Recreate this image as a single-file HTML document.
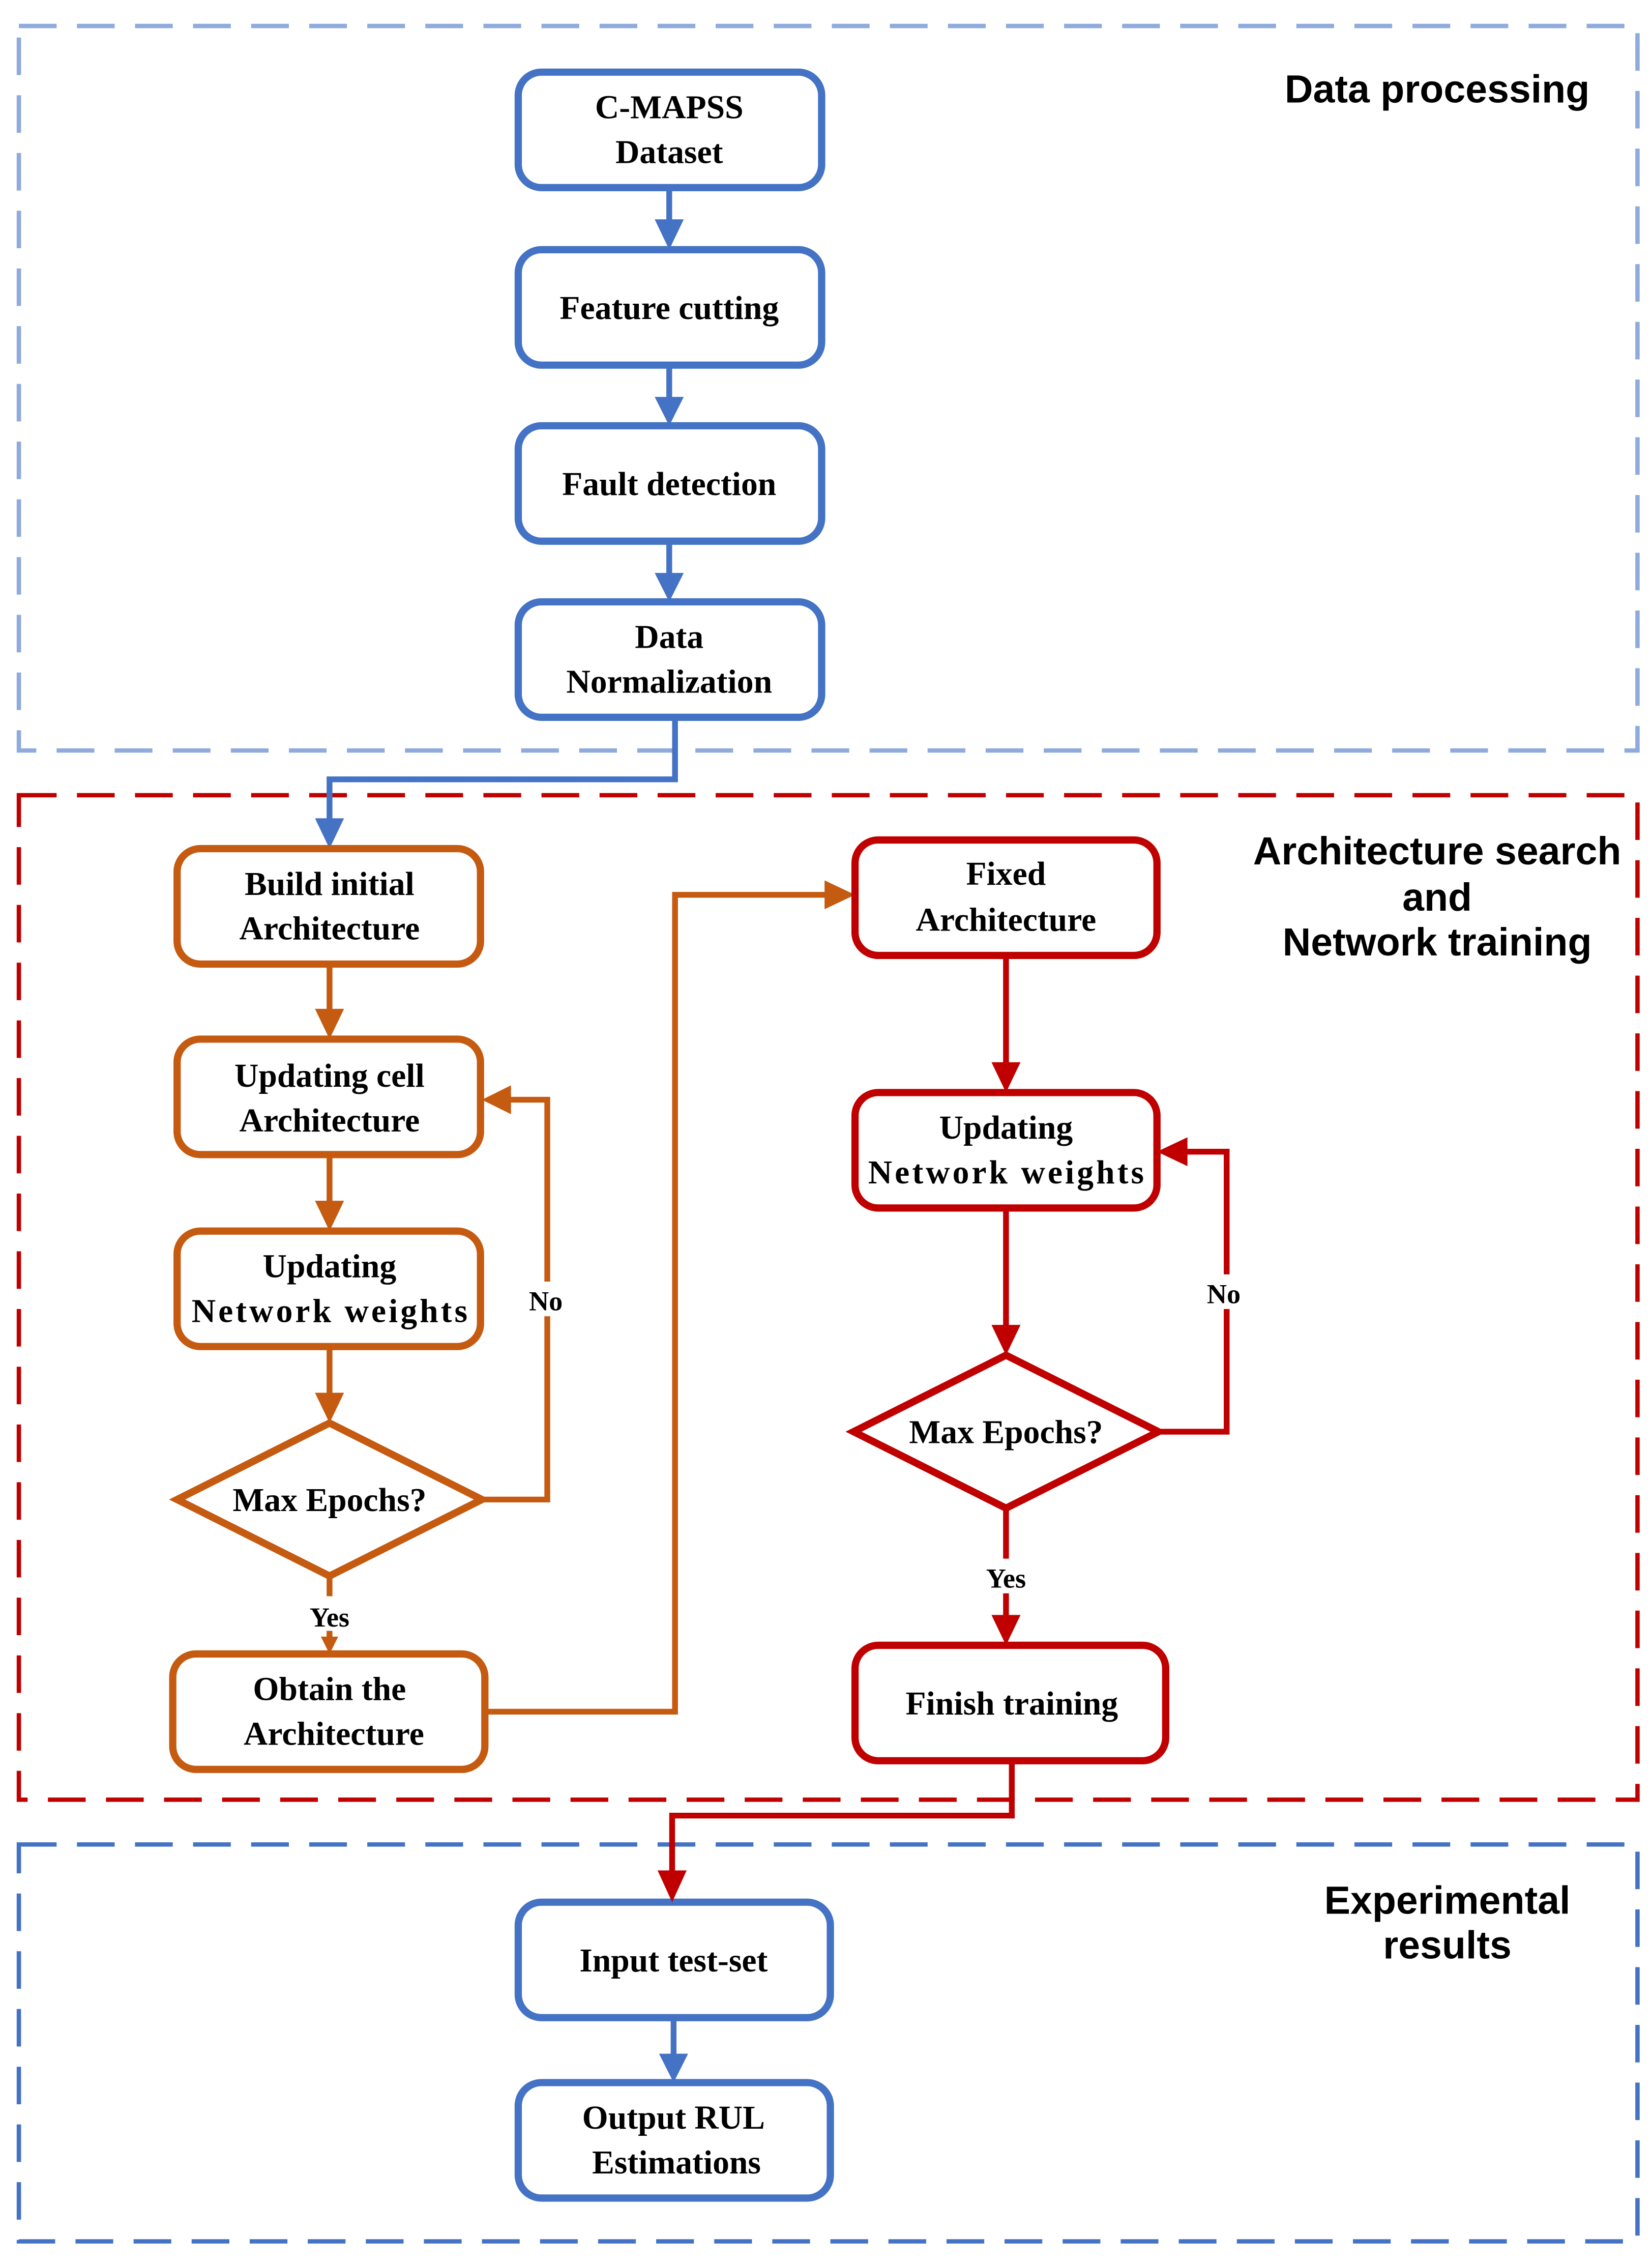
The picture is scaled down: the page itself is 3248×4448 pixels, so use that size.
<!DOCTYPE html>
<html><head><meta charset="utf-8"><style>html,body{margin:0;padding:0;background:#fff}svg{display:block}
.n{font-family:"Liberation Serif",serif;font-weight:bold;font-size:23px;text-anchor:middle;fill:#000}
.l{font-family:"Liberation Sans",sans-serif;font-weight:bold;font-size:27px;text-anchor:middle;fill:#000}
.s{font-family:"Liberation Serif",serif;font-weight:bold;font-size:19px;text-anchor:middle;fill:#000}
</style></head><body>
<svg width="3248" height="4448" viewBox="0 0 1138 1568" preserveAspectRatio="none" xmlns="http://www.w3.org/2000/svg">
<rect x="0" y="0" width="1138" height="1568" fill="#fff"/>
<!-- group boxes -->
<rect x="13" y="18" width="1115" height="502" fill="none" stroke="#8faadc" stroke-width="3" stroke-dasharray="26,14"/>
<rect x="13" y="551" width="1115" height="696" fill="none" stroke="#c00000" stroke-width="3" stroke-dasharray="26,14"/>
<rect x="13" y="1278" width="1115" height="275" fill="none" stroke="#4472c4" stroke-width="3" stroke-dasharray="26,14"/>

<text class="l" x="990" y="71">Data processing</text>
<text class="l" x="990" y="599">Architecture search</text>
<text class="l" x="990" y="631">and</text>
<text class="l" x="990" y="662">Network training</text>
<text class="l" x="997" y="1326">Experimental</text>
<text class="l" x="997" y="1357">results</text>

<!-- blue nodes -->
<g fill="#fff" stroke="#4472c4" stroke-width="5">
<rect x="357" y="50" width="209" height="80" rx="16"/>
<rect x="357" y="173" width="209" height="80" rx="16"/>
<rect x="357" y="295" width="209" height="80" rx="16"/>
<rect x="357" y="417" width="209" height="80" rx="16"/>
<rect x="357" y="1318" width="215" height="80" rx="16"/>
<rect x="357" y="1443" width="215" height="80" rx="16"/>
</g>
<g stroke="#4472c4" stroke-width="4" fill="none">
<line x1="461" y1="130" x2="461" y2="158"/>
<line x1="461" y1="253" x2="461" y2="280"/>
<line x1="461" y1="375" x2="461" y2="402"/>
<polyline points="465,497 465,540 227,540 227,572"/>
<line x1="464" y1="1398" x2="464" y2="1428"/>
</g>
<g fill="#4472c4">
<polygon points="451,152 471,152 461,173"/>
<polygon points="451,275 471,275 461,295"/>
<polygon points="451,397 471,397 461,417"/>
<polygon points="217,567 237,567 227,588"/>
<polygon points="454,1423 474,1423 464,1443"/>
</g>

<!-- orange -->
<g fill="#fff" stroke="#c55a11" stroke-width="5">
<rect x="122" y="588" width="209" height="80" rx="16"/>
<rect x="122" y="720" width="209" height="80" rx="16"/>
<rect x="122" y="853" width="209" height="80" rx="16"/>
<polygon points="122,1039 227,986 332,1039 227,1092"/>
<rect x="119" y="1146" width="215" height="80" rx="16"/>
</g>
<g stroke="#c55a11" stroke-width="4" fill="none">
<line x1="227" y1="668" x2="227" y2="702"/>
<line x1="227" y1="800" x2="227" y2="835"/>
<line x1="227" y1="933" x2="227" y2="968"/>
<line x1="227" y1="1092" x2="227" y2="1106"/>
<line x1="227" y1="1130" x2="227" y2="1136"/>
<polyline points="332,1039 377,1039 377,762 350,762"/>
<polyline points="334,1186 465,1186 465,620 572,620"/>
</g>
<rect x="360" y="888" width="34" height="24" fill="#fff"/>
<g fill="#c55a11">
<polygon points="217,699 237,699 227,720"/>
<polygon points="217,832 237,832 227,853"/>
<polygon points="217,965 237,965 227,986"/>
<polygon points="221,1134 233,1134 227,1146"/>
<polygon points="352,752 352,772 332,762"/>
<polygon points="568,610 568,630 589,620"/>
</g>

<!-- red -->
<g fill="#fff" stroke="#c00000" stroke-width="5">
<rect x="589" y="582" width="208" height="80" rx="16"/>
<rect x="589" y="757" width="208" height="80" rx="16"/>
<polygon points="588,992 693,939 798,992 693,1045"/>
<rect x="589" y="1140" width="214" height="80" rx="16"/>
</g>
<g stroke="#c00000" stroke-width="4" fill="none">
<line x1="693" y1="662" x2="693" y2="738"/>
<line x1="693" y1="837" x2="693" y2="920"/>
<line x1="693" y1="1045" x2="693" y2="1080"/>
<line x1="693" y1="1104" x2="693" y2="1122"/>
<polyline points="798,992 845,992 845,798 815,798"/>
<polyline points="697,1220 697,1258 463,1258 463,1298"/>
</g>
<rect x="826" y="883" width="36" height="24" fill="#fff"/>
<g fill="#c00000">
<polygon points="683,736 703,736 693,757"/>
<polygon points="683,918 703,918 693,939"/>
<polygon points="683,1119 703,1119 693,1140"/>
<polygon points="818,788 818,808 797,798"/>
<polygon points="453,1296 473,1296 463,1318"/>
</g>

<!-- node text -->
<text class="n" x="461" y="82">C-MAPSS</text>
<text class="n" x="461" y="113">Dataset</text>
<text class="n" x="461" y="221">Feature cutting</text>
<text class="n" x="461" y="343">Fault detection</text>
<text class="n" x="461" y="449">Data</text>
<text class="n" x="461" y="480">Normalization</text>
<text class="n" x="227" y="620">Build initial</text>
<text class="n" x="227" y="651">Architecture</text>
<text class="n" x="227" y="753">Updating cell</text>
<text class="n" x="227" y="784">Architecture</text>
<text class="n" x="227" y="885">Updating</text>
<text class="n" x="227" y="916" textLength="190">Network weights</text>
<text class="n" x="227" y="1047">Max Epochs?</text>
<text class="s" x="227" y="1127">Yes</text>
<text class="s" x="376" y="908">No</text>
<text class="n" x="227" y="1178">Obtain the</text>
<text class="n" x="230" y="1209">Architecture</text>
<text class="n" x="693" y="613">Fixed</text>
<text class="n" x="693" y="645">Architecture</text>
<text class="n" x="693" y="789">Updating</text>
<text class="n" x="693" y="820" textLength="190">Network weights</text>
<text class="n" x="693" y="1000">Max Epochs?</text>
<text class="s" x="693" y="1100">Yes</text>
<text class="s" x="843" y="903">No</text>
<text class="n" x="697" y="1188">Finish training</text>
<text class="n" x="464" y="1366">Input test-set</text>
<text class="n" x="464" y="1475">Output RUL</text>
<text class="n" x="466" y="1506">Estimations</text>
</svg>
</body></html>
